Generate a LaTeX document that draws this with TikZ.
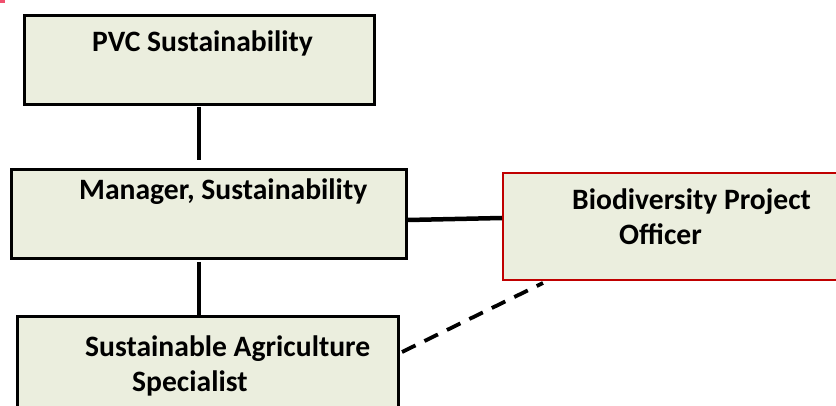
\documentclass[tikz,border=0pt]{standalone}
\usepackage{fontspec}
\setmainfont{Carlito}
\definecolor{boxfill}{HTML}{EBEEDE}
\definecolor{boxred}{HTML}{C00000}
\definecolor{markpink}{HTML}{F0506E}
\begin{document}
\begin{tikzpicture}[x=1pt,y=-1pt,
  box/.style={draw=black, line width=2.8pt, fill=boxfill, anchor=north west, inner sep=0pt},
  redbox/.style={box, draw=boxred, line width=2.2pt},
  lbl/.style={anchor=base west, inner sep=0pt, font=\fontsize{29.6}{35}\selectfont\bfseries},
  link/.style={line width=4.5pt},
  dlink/.style={line width=3.8pt, dash pattern=on 15pt off 10pt}]
\useasboundingbox (0,0) rectangle (836,406);
\fill[markpink] (0,0) rectangle (5,3);
% boxes
\node[box, minimum width=350pt, minimum height=89pt] (pvc) at (23,14) {};
\node[box, minimum width=395pt, minimum height=89pt] (mgr) at (10,168) {};
\node[box, minimum width=381pt, minimum height=110pt] (sas) at (16,315) {};
\node[redbox, minimum width=345pt, minimum height=107pt] (bpo) at (502,172) {};
% texts
\node[lbl] (tpvc) at (92,52) {PVC Sustainability};
\node[lbl] (tmgr) at (79,200) {Manager, Sustainability};
\node[lbl] (tbpo1) at (572,210) {Biodiversity Project};
\node[lbl] (tbpo2) at (619,245) {Officer};
\node[lbl] (tsas1) at (85,356) {Sustainable Agriculture};
\node[lbl] (tsas2) at (132,391) {Specialist};
% connector end points
\coordinate (a1) at (199,107);
\coordinate (a2) at (199,160);
\coordinate (b1) at (199,262);
\coordinate (c1) at (408,220);
\coordinate (c2) at (502,218);
\coordinate (d1) at (402,352);
\coordinate (d2) at (543,283);
\draw[link] (a1) -- (a2);
\draw[link] (b1) -- (b1 |- sas.north);
\draw[link] (c1) -- (c2);
\draw[dlink] (d1) -- (d2);
\end{tikzpicture}
\end{document}
